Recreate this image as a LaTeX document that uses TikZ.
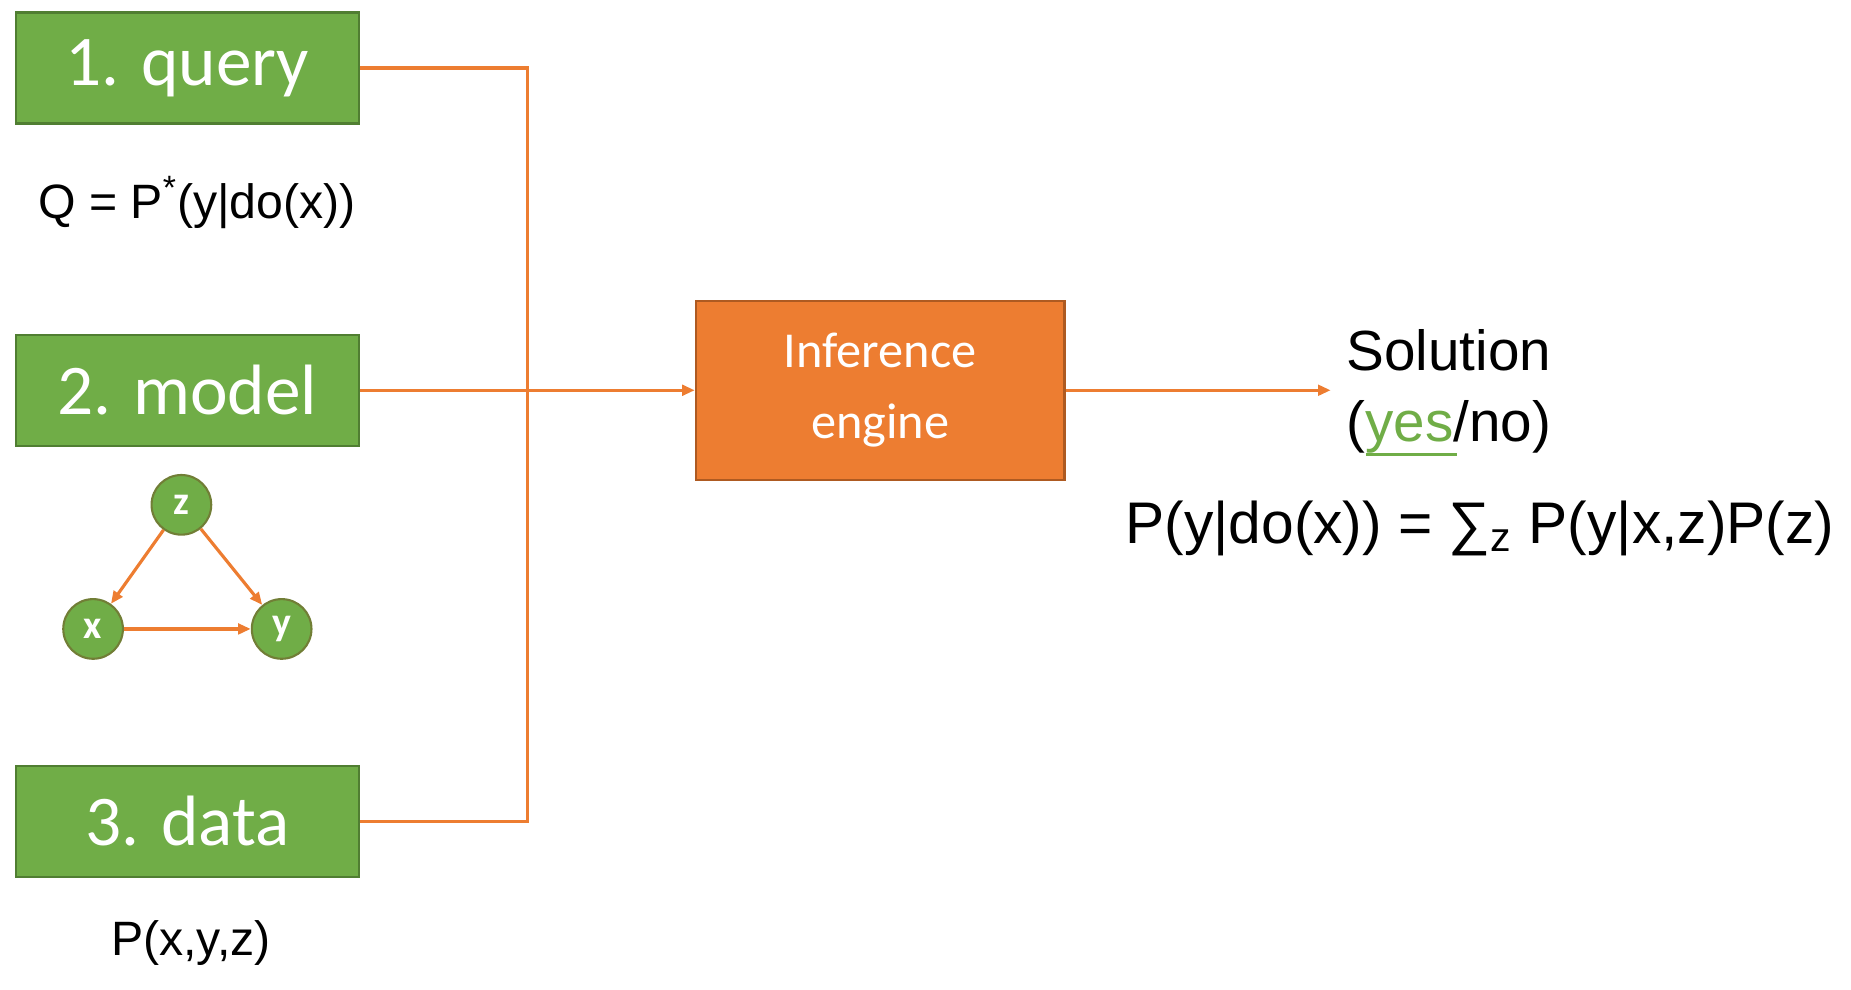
\documentclass[tikz,border=0pt]{standalone}
\usepackage{fontspec}
\setmainfont{Liberation Sans}
\newfontfamily\carl{Carlito}
\usetikzlibrary{arrows.meta}
\definecolor{gr}{HTML}{70AD47}
\definecolor{grb}{HTML}{507E32}
\definecolor{or}{HTML}{ED7D31}
\definecolor{orb}{HTML}{AE5A21}
\begin{document}
\begin{tikzpicture}[x=0.02cm,y=-0.02cm,
 gbox/.style={draw=grb,fill=gr,line width=1pt,minimum width=5.76cm,minimum height=1.86cm,text=white,font=\carl\fontsize{34}{40}\selectfont},
 circ/.style={circle,draw=grb!70!brown,fill=gr,line width=1pt,minimum size=1cm,inner sep=0pt,text=white,font=\carl\bfseries\fontsize{19}{22}\selectfont},
 con/.style={draw=or,line width=1.5pt},
 arr/.style={con,-{Triangle[length=6pt,width=5pt]}},
 lbl/.style={font=\fontsize{23}{26}\selectfont}]
\useasboundingbox (0,0) rectangle (1551,829);
\node[gbox] (q) at (157,57) {1. query};
\node[gbox] (m) at (157,327) {2. model};
\node[gbox] (d) at (157,688) {3. data};
\node[lbl] (qt) at (165,170) {Q = P\textsuperscript{*}(y|do(x))};
\node[lbl] (dt) at (160,790) {P(x,y,z)};
\node[circ] (z) at (152,423) {z};
\node[circ] (x) at (78,527) {x};
\node[circ] (y) at (236,527) {y};
\draw[arr] (z) -- (x);
\draw[arr] (z) -- (y);
\draw[arr] (x) -- (y);
\node[draw=orb,fill=or,line width=1pt,minimum width=6.18cm,minimum height=3cm,text=white,align=center,font=\carl\fontsize{24}{34}\selectfont] (ie) at (737.5,327) {Inference\\engine};
\coordinate (j) at (442,327);
\draw[con] (q.east) -| (j);
\draw[con] (d.east) -| (j);
\draw[con] (m.east) -- (j);
\draw[arr] (j) -- (ie.west);
\coordinate (s) at (1115,327);
\draw[arr] (ie.east) -- (s);
\node[anchor=west,align=left,font=\fontsize{27}{34}\selectfont] (sol) at (1122,328) {Solution\\(\textcolor{gr}{yes}/no)};
\draw[gr,line width=1.5pt] (1145,381) -- (1221,381);
\node[font=\fontsize{28}{34}\selectfont] (f) at (1240,443) {P(y|do(x)) = ∑\textsubscript{z} P(y|x,z)P(z)};
\end{tikzpicture}
\end{document}
